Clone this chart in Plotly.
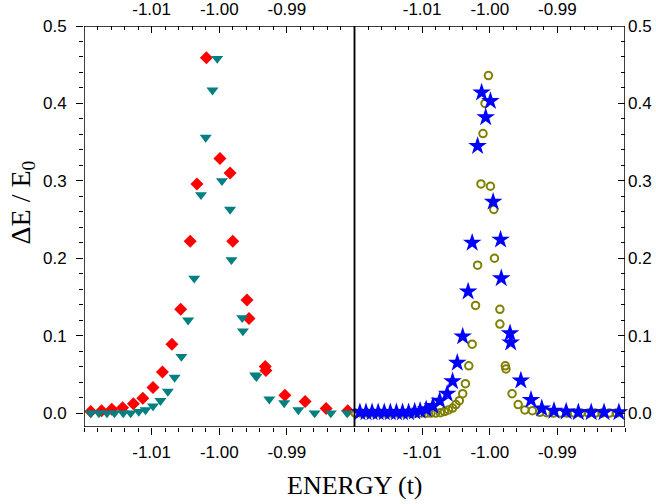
import plotly.graph_objects as go

# ---- left panel data (energy in units of t, dE/E0) ----
red_e = [-1.0190, -1.0174, -1.0159, -1.0143, -1.0127, -1.0113, -1.0098, -1.0084,
         -1.0070, -1.0057, -1.0043, -1.0033, -1.0019, -0.9999, -0.9984, -0.9980,
         -0.9959, -0.9956, -0.9932, -0.9931, -0.9903, -0.9873, -0.9842, -0.9810]
red_de = [0.002, 0.003, 0.005, 0.007, 0.012, 0.019, 0.033, 0.053,
          0.089, 0.134, 0.222, 0.296, 0.459, 0.329, 0.310, 0.222,
          0.146, 0.122, 0.060, 0.055, 0.023, 0.015, 0.006, 0.003]

teal_e = [-1.0202, -1.0190, -1.0178, -1.0166, -1.0155, -1.0142, -1.0131, -1.0119,
          -1.0109, -1.0098, -1.0087, -1.0076, -1.0066, -1.0056, -1.0046, -1.0037,
          -1.0027, -1.0020, -1.0010, -1.0003, -0.9996, -0.9984, -0.9982, -0.9966,
          -0.9965, -0.9947, -0.9945, -0.9926, -0.9904, -0.9883, -0.9859, -0.9835,
          -0.9811]
teal_de = [0.000, 0.000, 0.000, 0.000, 0.000, 0.000, 0.000, 0.002,
           0.004, 0.009, 0.016, 0.028, 0.046, 0.073, 0.120, 0.174,
           0.282, 0.356, 0.417, 0.458, 0.300, 0.263, 0.198, 0.123,
           0.106, 0.049, 0.047, 0.018, 0.013, 0.004, 0.000, 0.000,
           0.000]

# ---- right panel data ----
olive_e = [-1.0199, -1.0190, -1.0181, -1.0172, -1.0163, -1.0155, -1.0146, -1.0137,
           -1.0128, -1.0119, -1.0110, -1.0101, -1.0093, -1.0087, -1.0080, -1.0073,
           -1.0067, -1.0061, -1.0055, -1.0050, -1.0045, -1.0040, -1.0036, -1.0031,
           -1.0026, -1.0021, -1.0018, -1.0013, -1.0010, -1.0007, -1.0002, -0.9999,
           -0.9994, -0.9993, -0.9985, -0.9985, -0.9977, -0.9976, -0.9967, -0.9958,
           -0.9948, -0.9937, -0.9926, -0.9916, -0.9906, -0.9896, -0.9886, -0.9875,
           -0.9865, -0.9854, -0.9844, -0.9834, -0.9823, -0.9813]
olive_de = [0.000, 0.000, 0.000, 0.000, 0.000, 0.000, 0.000, 0.000,
            0.000, 0.000, 0.000, 0.000, 0.000, 0.000, 0.000, 0.0005,
            0.002, 0.004, 0.0065, 0.011, 0.016, 0.025, 0.038, 0.061,
            0.089, 0.139, 0.191, 0.296, 0.361, 0.400, 0.436, 0.293,
            0.263, 0.200, 0.134, 0.115, 0.061, 0.057, 0.025, 0.011,
            0.004, 0.003, 0.001, 0.0005, 0.000, 0.000, 0.000, 0.000,
            0.000, 0.000, 0.000, 0.000, 0.000, 0.000]

blue_e = [-1.0201, -1.0192, -1.0183, -1.0174, -1.0165, -1.0156, -1.0147, -1.0138,
          -1.0129, -1.0120, -1.0111, -1.0103, -1.0094, -1.0084, -1.0074, -1.0063,
          -1.0055, -1.0048, -1.0040, -1.0032, -1.0026, -1.0018, -1.0012, -1.0006,
          -0.9999, -0.9995, -0.9984, -0.9983, -0.9970, -0.9969, -0.9954, -0.9939,
          -0.9923, -0.9905, -0.9887, -0.9869, -0.9850, -0.9831, -0.9809]
blue_de = [0.001, 0.001, 0.001, 0.001, 0.001, 0.001, 0.001, 0.001,
           0.001, 0.001, 0.002, 0.003, 0.005, 0.009, 0.016, 0.025,
           0.041, 0.065, 0.099, 0.157, 0.220, 0.345, 0.414, 0.382,
           0.403, 0.273, 0.224, 0.174, 0.103, 0.091, 0.042, 0.017,
           0.006, 0.003, 0.002, 0.001, 0.001, 0.001, 0.001]

x_range = [-1.02, -0.98]
y_range = [-0.018, 0.5]
tick_vals = [-1.01, -1.00, -0.99]
tick_text = ["-1.01", "-1.00", "-0.99"]

tick_font = dict(family="Liberation Sans, Arial", size=17, color="black")
title_font = "Liberation Serif, Times New Roman"

W, H = 656, 504
M = dict(l=84, r=31, t=26, b=77)

fig = go.Figure()

fig.add_trace(go.Scatter(x=red_e, y=red_de, mode="markers", cliponaxis=False,
                         marker=dict(symbol="diamond", size=10, color="#ff0000"),
                         xaxis="x", yaxis="y"))
fig.add_trace(go.Scatter(x=teal_e, y=teal_de, mode="markers", cliponaxis=False,
                         marker=dict(symbol="triangle-down", size=10.5, color="#008080"),
                         xaxis="x", yaxis="y"))
fig.add_trace(go.Scatter(x=olive_e, y=olive_de, mode="markers", cliponaxis=False,
                         marker=dict(symbol="circle-open", size=7.5, color="#808000",
                                     line=dict(width=2, color="#808000")),
                         xaxis="x2", yaxis="y2"))
fig.add_trace(go.Scatter(x=blue_e, y=blue_de, mode="markers", cliponaxis=False,
                         marker=dict(symbol="star", size=14, color="#0000ff"),
                         xaxis="x2", yaxis="y2"))

# panel frames drawn as closed lines around each axis range; they sit on the
# top (overlaying) axes, which also makes those axes get drawn
box_x = [x_range[0], x_range[1], x_range[1], x_range[0], x_range[0]]
box_y = [y_range[0], y_range[0], y_range[1], y_range[1], y_range[0]]
for xa, ya in [("x3", "y"), ("x4", "y2")]:
    fig.add_trace(go.Scatter(x=box_x, y=box_y, mode="lines", cliponaxis=False,
                             line=dict(color="black", width=1.5),
                             hoverinfo="skip", xaxis=xa, yaxis=ya))


def x_axis(side, ticks, **kw):
    d = dict(range=x_range, side=side, tickmode="array", tickvals=tick_vals,
             ticktext=tick_text, ticks=ticks, ticklen=7, tickwidth=1,
             tickcolor="black", showline=False, automargin=False,
             showgrid=False, zeroline=False, tickfont=tick_font,
             minor=dict(tickmode="linear", tick0=-1.02, dtick=0.002, ticks=ticks,
                        ticklen=4, tickcolor="black", showgrid=False))
    d.update(kw)
    return d


def y_axis(side, ticks, **kw):
    d = dict(range=y_range, side=side, tickmode="linear", tick0=0, dtick=0.1,
             tickformat=".1f", ticks=ticks, ticklen=7, tickwidth=1,
             tickcolor="black", showline=False, automargin=False,
             showgrid=False, zeroline=False, tickfont=tick_font,
             minor=dict(tickmode="linear", tick0=0, dtick=0.02, ticks=ticks,
                        ticklen=4, tickcolor="black", showgrid=False))
    d.update(kw)
    return d


fig.update_layout(
    width=W, height=H,
    margin=M,
    plot_bgcolor="white", paper_bgcolor="white",
    showlegend=False,
    xaxis=x_axis("bottom", "outside", domain=[0, 0.5], anchor="y",
                 ticklabelstandoff=3),
    xaxis2=x_axis("bottom", "outside", domain=[0.5, 1], anchor="y2",
                  ticklabelstandoff=3),
    xaxis3=x_axis("top", "inside", overlaying="x", anchor="y",
                  ticklabelstandoff=7),
    xaxis4=x_axis("top", "inside", overlaying="x2", anchor="y2",
                  ticklabelstandoff=7),
    yaxis=y_axis("left", "outside", anchor="x", ticklabelstandoff=6),
    yaxis2=y_axis("right", "inside", anchor="x2", ticklabelstandoff=2),
)

# divider between the panels
fig.add_shape(type="line", xref="paper", yref="paper", x0=0.5, x1=0.5, y0=0, y1=1,
              line=dict(color="black", width=1.5), layer="above")

fig.add_annotation(text="ΔE / E<sub>0</sub>", xref="paper", yref="paper",
                   x=-0.1146, y=0.56, textangle=-90, showarrow=False,
                   xanchor="center", yanchor="middle",
                   font=dict(family=title_font, size=28, color="black"))
fig.add_annotation(text="ENERGY (t)", xref="paper", yref="paper",
                   x=0.5, y=-0.145, showarrow=False,
                   xanchor="center", yanchor="middle",
                   font=dict(family=title_font, size=26, color="black"))

# drop the default 8px body margin so the figure fills the window exactly
fig.write_html("out.html", config={"displayModeBar": False},
               post_script="document.body.style.margin='0px';")
